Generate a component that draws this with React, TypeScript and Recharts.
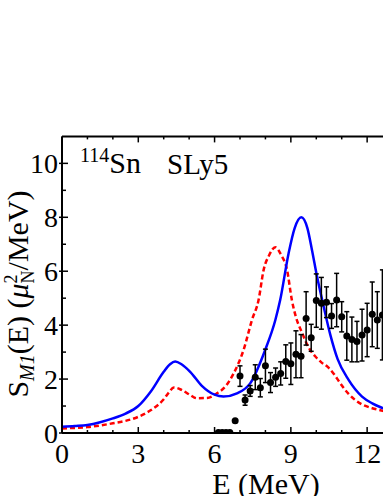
import React from "react";
import { ComposedChart, Line, Scatter, XAxis, YAxis, ErrorBar, Label } from "recharts";

// Theory curve: SLy5 (blue, solid)
const blueE = [0, 0.5, 1, 1.5, 2, 2.5, 3, 3.5, 4, 4.25, 4.45, 4.7, 5.04, 5.5, 6, 6.35, 6.88, 7.4, 7.99, 8.39, 8.58, 8.91, 9.15, 9.41, 9.65, 9.83, 10.03, 10.29, 10.55, 10.84, 11.27, 11.8, 12.2, 12.62, 13.2, 14];
const blueS = [0.23, 0.26, 0.3, 0.4, 0.54, 0.72, 1.0, 1.55, 2.27, 2.55, 2.65, 2.55, 2.27, 1.75, 1.42, 1.35, 1.47, 1.84, 3.08, 4.19, 4.93, 6.66, 7.6, 8.0, 7.6, 6.79, 5.8, 4.69, 3.65, 2.74, 1.97, 1.35, 1.1, 0.92, 0.72, 0.55];

// Theory curve (red, dashed)
const redE = [0, 0.5, 1, 1.5, 2, 2.5, 3, 3.5, 4, 4.2, 4.4, 4.7, 5.04, 5.3, 5.7, 6.09, 6.45, 6.75, 7.14, 7.47, 7.73, 7.93, 8.15, 8.39, 8.62, 8.85, 9.04, 9.2, 9.44, 9.7, 10.0, 10.2, 10.45, 10.7, 10.9, 11.27, 11.8, 12.2, 12.62, 13.2, 14];
const redS = [0.17, 0.19, 0.22, 0.28, 0.36, 0.45, 0.6, 0.85, 1.25, 1.5, 1.69, 1.6, 1.41, 1.29, 1.3, 1.47, 1.75, 2.21, 3.08, 4.19, 4.93, 6.05, 6.6, 6.89, 6.6, 6.05, 4.93, 4.3, 3.72, 3.17, 2.8, 2.62, 2.45, 2.18, 1.9, 1.45, 1.06, 0.92, 0.82, 0.65, 0.5];

// Experimental data with error bars
const expE = [6.15, 6.3, 6.45, 6.6, 6.81, 7.0, 7.2, 7.4, 7.6, 7.8, 8.0, 8.2, 8.4, 8.6, 8.8, 9.0, 9.2, 9.4, 9.6, 9.8, 10.0, 10.2, 10.4, 10.6, 10.8, 11.0, 11.2, 11.4, 11.6, 11.8, 12.0, 12.2, 12.4, 12.6];
const expS = [0.02, 0.02, 0.02, 0.02, 0.45, 2.11, 1.22, 1.56, 2.07, 1.68, 2.49, 1.87, 2.07, 2.21, 2.65, 2.57, 2.92, 2.85, 4.25, 3.53, 4.91, 4.81, 4.85, 4.34, 4.93, 4.31, 3.6, 3.47, 3.39, 3.63, 3.82, 4.4, 4.19, 4.38];
const expErr = [0, 0, 0, 0, 0, 0.38, 0.19, 0.2, 0.46, 0.34, 0.62, 0.37, 0.34, 0.43, 0.62, 0.77, 0.87, 0.8, 0.99, 0.5, 0.99, 0.96, 0.57, 0.46, 0.99, 0.56, 0.9, 0.83, 0.75, 0.96, 0.99, 1.2, 1.05, 1.67];

const xTicks = [0, 1, 2, 3, 4, 5, 6, 7, 8, 9, 10, 11, 12, 13, 14];
const yTicks = [0, 1, 2, 3, 4, 5, 6, 7, 8, 9, 10];

const blueData = blueE.map((x, i) => ({ x, y: blueS[i] }));
const redData = redE.map((x, i) => ({ x, y: redS[i] }));
const expData = expE.map((x, i) => ({ x, y: expS[i], err: expErr[i] }));

const FONT = "'Liberation Serif', 'DejaVu Serif', serif";

const XTickBottom = (props: any) => {
  const { x, y, payload } = props;
  const v = payload.value;
  const major = v % 3 === 0;
  return (
    <g>
      <line x1={x} x2={x} y1={y} y2={y - (major ? 6 : 3)} stroke="#000" strokeWidth={1.5} />
      {major && (
        <text x={x} y={y + 30} textAnchor="middle" fontFamily={FONT} fontSize={28} fill="#000">
          {v}
        </text>
      )}
    </g>
  );
};

const XTickTop = (props: any) => {
  const { x, y, payload } = props;
  const v = payload.value;
  const major = v % 3 === 0;
  return <line x1={x} x2={x} y1={y} y2={y + (major ? 6 : 3)} stroke="#000" strokeWidth={1.5} />;
};

const YTickLeft = (props: any) => {
  const { x, y, payload } = props;
  const v = payload.value;
  const major = v % 2 === 0;
  return (
    <g>
      <line x1={major ? x - 3 : x} x2={x + (major ? 6 : 4)} y1={y} y2={y} stroke="#000" strokeWidth={1.5} />
      {major && (
        <text x={x - 4} y={y + 9.5} textAnchor="end" fontFamily={FONT} fontSize={28} fill="#000">
          {v}
        </text>
      )}
    </g>
  );
};

const renderYLabel = () => {
  const cx = 28;
  const cy = 294;
  return (
    <g>
      <text
        x={cx}
        y={cy}
        transform={`rotate(-90, ${cx}, ${cy})`}
        textAnchor="middle"
        fontFamily={FONT}
        fontSize={30}
        fill="#000"
      >
        <tspan>S</tspan>
        <tspan fontSize={20} fontStyle="italic" dy={6}>M1</tspan>
        <tspan dy={-6}>(E) (</tspan>
        <tspan fontStyle="italic">μ</tspan>
        <tspan fontSize={18} dy={6}>N</tspan>
        <tspan fontSize={18} dx={-13} dy={-17}>2</tspan>
        <tspan dx={4} dy={11}>/MeV)</tspan>
      </text>
      <text x={266} y={494} textAnchor="middle" fontFamily={FONT} fontSize={30} fill="#000">
        E (MeV)
      </text>
      <text x={80} y={173} fontFamily={FONT} fill="#000">
        <tspan fontSize={20} dy={-11}>114</tspan>
        <tspan fontSize={30} dy={11}>Sn</tspan>
      </text>
      <text x={167} y={174} fontFamily={FONT} fontSize={29} fill="#000">
        SLy5
      </text>
    </g>
  );
};

const Dot = (props: any) => {
  const { cx, cy } = props;
  if (cx == null || cy == null) return null;
  return <circle cx={cx} cy={cy} r={3.5} fill="#000" />;
};

export default function App() {
  return (
    <div style={{ position: "fixed", left: 0, top: 0, width: 383, height: 496, overflow: "hidden", background: "#fff" }}>
      <ComposedChart width={418} height={496} margin={{ top: 135.4, right: 0, bottom: 0, left: 0 }}>
        <XAxis
          type="number"
          dataKey="x"
          domain={[0, 14]}
          ticks={xTicks}
          interval={0}
          height={63}
          tickSize={0}
          tickMargin={0}
          tickLine={false}
          tick={XTickBottom}
          axisLine={{ stroke: "#000", strokeWidth: 2 }}
          allowDataOverflow
        />
        <XAxis
          xAxisId="top"
          orientation="top"
          type="number"
          dataKey="x"
          domain={[0, 14]}
          ticks={xTicks}
          interval={0}
          height={1}
          tickSize={0}
          tickMargin={0}
          tickLine={false}
          tick={XTickTop}
          axisLine={{ stroke: "#000", strokeWidth: 2 }}
          allowDataOverflow
        />
        <YAxis
          type="number"
          domain={[0, 11]}
          ticks={yTicks}
          interval={0}
          width={62}
          tickSize={0}
          tickMargin={0}
          tickLine={false}
          tick={YTickLeft}
          axisLine={{ stroke: "#000", strokeWidth: 2 }}
          allowDataOverflow
        >
          <Label content={renderYLabel} />
        </YAxis>
        <Line
          data={redData}
          dataKey="y"
          type="monotone"
          stroke="#ff0000"
          strokeWidth={2.5}
          strokeDasharray="5 3"
          dot={false}
          activeDot={false}
          isAnimationActive={false}
        />
        <Line
          data={blueData}
          dataKey="y"
          type="monotone"
          stroke="#0000ff"
          strokeWidth={2.5}
          dot={false}
          activeDot={false}
          isAnimationActive={false}
        />
        <Scatter data={expData} dataKey="y" shape={Dot} isAnimationActive={false}>
          <ErrorBar dataKey="err" direction="y" width={2.5} stroke="#000" strokeWidth={1.5} isAnimationActive={false} />
        </Scatter>
      </ComposedChart>
    </div>
  );
}
